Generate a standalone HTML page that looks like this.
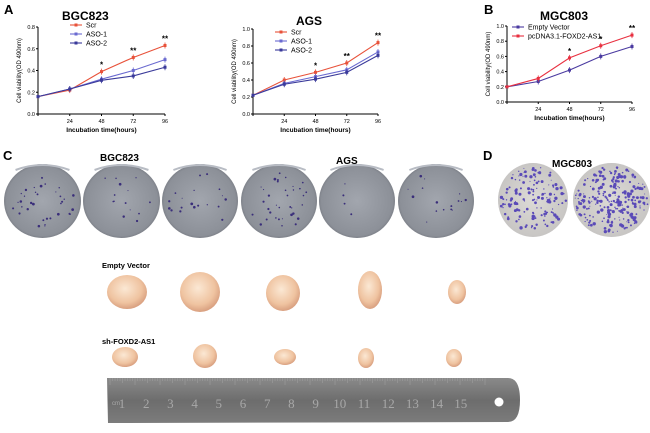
<!DOCTYPE html><html><head><style>body{margin:0;background:#fff}svg{display:block;font-family:"Liberation Sans",sans-serif}</style></head><body>
<svg id="s" width="650" height="433" viewBox="0 0 650 433">
<defs>
<radialGradient id="pl" cx="50%" cy="50%" r="55%"><stop offset="0" stop-color="#a2a6ae"/><stop offset="0.85" stop-color="#8c9098"/><stop offset="1" stop-color="#6a6d75"/></radialGradient>
<radialGradient id="pd" cx="50%" cy="50%" r="55%"><stop offset="0" stop-color="#dcdad6"/><stop offset="0.9" stop-color="#c8c6c4"/><stop offset="1" stop-color="#8a8aa0"/></radialGradient>
<radialGradient id="tu" cx="45%" cy="40%" r="60%"><stop offset="0" stop-color="#fbe8d4"/><stop offset="0.7" stop-color="#efc3a0"/><stop offset="1" stop-color="#d9a080"/></radialGradient>
<linearGradient id="ru" x1="0" y1="0" x2="0" y2="1"><stop offset="0" stop-color="#8a8a8a"/><stop offset="0.5" stop-color="#6d6d6d"/><stop offset="1" stop-color="#7c7c7c"/></linearGradient>
</defs>
<g id="charts"></g>
<g id="photos"></g>
<g font-weight="bold">
<text x="4" y="14" font-size="13">A</text>
<text x="484" y="14" font-size="13">B</text>
<text x="3" y="160" font-size="13">C</text>
<text x="483" y="160" font-size="13">D</text>
<text x="62" y="20" font-size="12">BGC823</text>
<text x="296" y="25" font-size="12">AGS</text>
<text x="540" y="20" font-size="12">MGC803</text>
<text x="100" y="161" font-size="10">BGC823</text>
<text x="336" y="164" font-size="10">AGS</text>
<text x="552" y="167" font-size="10">MGC803</text>
<text x="102" y="268" font-size="7.5">Empty Vector</text>
<text x="102" y="344" font-size="7.5">sh-FOXD2-AS1</text>
</g>
</svg>
<script>
var ns="http://www.w3.org/2000/svg",C=document.getElementById('charts'),P=document.getElementById('photos');
function el(p,t,a,tx){var e=document.createElementNS(ns,t);for(var k in a)e.setAttribute(k,a[k]);if(tx)e.textContent=tx;p.appendChild(e);return e;}
function chart(x0,x1,y0,y1,vmax,step,ticks,series,legend,lx,ly,stars){
 var X=t=>x0+t*(x1-x0)/96,Y=v=>y0-v*(y0-y1)/vmax;
 el(C,'line',{x1:x0,y1:y0,x2:x1,y2:y0,stroke:'#000','stroke-width':1});
 el(C,'line',{x1:x0,y1:y0,x2:x0,y2:y1,stroke:'#000','stroke-width':1});
 [0,24,48,72,96].forEach(t=>{el(C,'line',{x1:X(t),y1:y0,x2:X(t),y2:y0+2,stroke:'#000'});el(C,'text',{x:X(t),y:y0+9,'font-size':5.5,'text-anchor':'middle'},t)});
 ticks.forEach(v=>{el(C,'line',{x1:x0-2,y1:Y(v),x2:x0,y2:Y(v),stroke:'#000'});el(C,'text',{x:x0-3,y:Y(v)+2,'font-size':5.5,'text-anchor':'end'},v.toFixed(1))});
 el(C,'text',{x:(x0+x1)/2,y:y0+18,'font-size':6.5,'font-weight':'bold','text-anchor':'middle'},'Incubation time(hours)');
 el(C,'text',{x:0,y:0,'font-size':6,'text-anchor':'middle',transform:'translate('+(x0-17)+','+((y0+y1)/2)+') rotate(-90)'},'Cell viability(OD 490nm)');
 series.forEach((s,i)=>{var pts=s.v.map((v,j)=>X(j*24)+','+Y(v)).join(' ');
  el(C,'polyline',{points:pts,fill:'none',stroke:s.c,'stroke-width':1.1});
  s.v.forEach((v,j)=>{var x=X(j*24),y=Y(v),e=j?3:0;el(C,'line',{x1:x,y1:y-e,x2:x,y2:y+e,stroke:s.c,'stroke-width':0.8});el(C,'rect',{x:x-1.5,y:y-1.5,width:3,height:3,fill:s.c})});
  el(C,'line',{x1:lx,y1:ly+i*9,x2:lx+12,y2:ly+i*9,stroke:s.c,'stroke-width':1.1});el(C,'rect',{x:lx+4.5,y:ly+i*9-1.5,width:3,height:3,fill:s.c});
  el(C,'text',{x:lx+16,y:ly+i*9+2.5,'font-size':7},s.n);});
 stars.forEach(s=>el(C,'text',{x:X(s[0]),y:Y(s[1])-4,'font-size':8,'font-weight':'bold','text-anchor':'middle'},s[2]));
}
var R='#e8523a',B1='#6a6ad0',B2='#3a3a9a';
chart(38,165,114,27,0.8,0.2,[0,0.2,0.4,0.6,0.8],[{n:'Scr',c:R,v:[.16,.22,.39,.52,.63]},{n:'ASO-1',c:B1,v:[.16,.23,.32,.40,.50]},{n:'ASO-2',c:B2,v:[.16,.23,.31,.35,.43]}],0,70,25,[[48,.39,'*'],[72,.52,'**'],[96,.63,'**']]);
chart(253,378,114,29,1.0,0.2,[0,0.2,0.4,0.6,0.8,1.0],[{n:'Scr',c:R,v:[.22,.40,.49,.60,.84]},{n:'ASO-1',c:B1,v:[.22,.36,.44,.52,.73]},{n:'ASO-2',c:B2,v:[.22,.35,.41,.49,.69]}],0,275,32,[[48,.49,'*'],[72,.60,'**'],[96,.84,'**']]);
chart(507,632,102,26,1.0,0.2,[0,0.2,0.4,0.6,0.8,1.0],[{n:'Empty Vector',c:'#4a3aa0',v:[.20,.27,.42,.60,.73]},{n:'pcDNA3.1-FOXD2-AS1',c:'#e83040',v:[.20,.31,.58,.74,.88]}],0,512,27,[[48,.58,'*'],[72,.74,'*'],[96,.88,'**']]);
var rnd=(function(s){return function(){s=(s*9301+49297)%233280;return s/233280}})(7);
[[4,81],[83,160],[162,238],[241,317],[319,395],[398,474]].forEach((p,i)=>{var cx=(p[0]+p[1])/2,rx=(p[1]-p[0])/2;
 el(P,'ellipse',{cx:cx,cy:201,rx:rx,ry:37,fill:'url(#pl)'});
 el(P,'path',{d:'M'+(cx-rx*0.7)+' 170 Q'+cx+' 160 '+(cx+rx*0.7)+' 170',stroke:'#b8bcc4','stroke-width':2,fill:'none'});
 var n=[35,14,20,35,4,16][i];for(var k=0;k<n;k++){var a=rnd()*6.28,r=Math.sqrt(rnd())*0.85;el(P,'circle',{cx:cx+Math.cos(a)*r*rx,cy:201+Math.sin(a)*r*34,r:0.5+rnd()*0.9,fill:'#3a2e7a'})}});
[[498,568],[573,650]].forEach((p,i)=>{var cx=(p[0]+p[1])/2,rx=(p[1]-p[0])/2;
 el(P,'ellipse',{cx:cx,cy:200,rx:rx,ry:37,fill:'url(#pd)'});
 var n=i?260:150;for(var k=0;k<n;k++){var a=rnd()*6.28,r=Math.sqrt(rnd())*0.95;el(P,'circle',{cx:cx+Math.cos(a)*r*rx,cy:200+Math.sin(a)*r*35,r:0.5+rnd()*1.2,fill:'#5a4ab8'})}});
[[127,292,20,17],[200,292,20,20],[283,293,17,18],[370,290,12,19],[457,292,9,12]].forEach(t=>el(P,'ellipse',{cx:t[0],cy:t[1],rx:t[2],ry:t[3],fill:'url(#tu)'}));
[[125,357,13,10],[205,356,12,12],[285,357,11,8],[366,358,8,10],[454,358,8,9]].forEach(t=>el(P,'ellipse',{cx:t[0],cy:t[1],rx:t[2],ry:t[3],fill:'url(#tu)'}));
el(P,'path',{d:'M107 378 L508 378 Q520 378 520 400 Q520 422 508 422 L108 423 Z',fill:'url(#ru)'});
for(var i=0;i<=150;i++){var x=110+i*2.5;el(P,'line',{x1:x,y1:378,x2:x,y2:378+(i%10?(i%5?3:5):7),stroke:'#aaa','stroke-width':0.4})}
el(P,'text',{x:112,y:405,'font-size':6,fill:'#aaa'},'cm');
for(var i=1;i<=15;i++)el(P,'text',{x:122+(i-1)*24.2,y:408,'font-size':13,fill:'#a8a8a8','font-family':'Liberation Serif','text-anchor':'middle'},i);
el(P,'circle',{cx:499,cy:402,r:4.5,fill:'#fff'});
</script>
</body></html>
